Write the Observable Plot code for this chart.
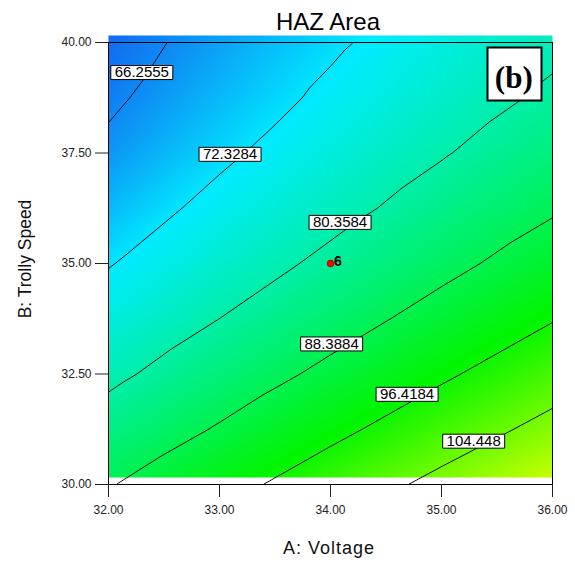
<!DOCTYPE html>
<html>
<head>
<meta charset="utf-8">
<script src="https://cdn.jsdelivr.net/npm/d3@7"></script>
<script src="https://cdn.jsdelivr.net/npm/@observablehq/plot@0.6"></script>
<style>
  html, body { margin: 0; padding: 0; background: white; }
</style>
</head>
<body>
<div id="chart"></div>
<script>
// ---- data ----
const voltage = [32, 33, 34, 35, 36];                                   // A: Voltage grid
const trollySpeed = [30, 31.25, 32.5, 33.75, 35, 36.25, 37.5, 38.75, 40]; // B: Trolly Speed grid
// HAZ area estimated at each (speed row, voltage column)
const hazArea = [
  [87.97, 94.01, 100.12, 106.29, 112.52],
  [83.21, 88.95,  94.75, 100.60, 106.52],
  [78.97, 84.40,  89.89,  95.44, 101.05],
  [75.25, 80.37,  85.55,  90.79,  96.09],
  [72.04, 76.85,  81.72,  86.65,  91.64],
  [69.35, 73.85,  78.41,  83.03,  87.71],
  [67.17, 71.36,  75.61,  79.93,  84.30],
  [65.51, 69.39,  73.33,  77.34,  81.40],
  [64.37, 67.94,  71.57,  75.27,  79.02]
];
const contourLevels = [66.2555, 72.3284, 80.3584, 88.3884, 96.4184, 104.448];
const contourLabels = ["66.2555", "72.3284", "80.3584", "88.3884", "96.4184", "104.448"];
const labelVoltage = [32.30, 33.095, 34.086, 34.01, 34.69, 35.29];
const labelSpeed = [39.32, 37.47, 35.93, 33.18, 32.04, 30.98];
const designVoltage = [34];
const designSpeed = [35];
const designLabel = ["6"];
const xTicks = [32, 33, 34, 35, 36];
const yTicks = [30, 32.5, 35, 37.5, 40];
const colorStops = [64, 73, 96, 113];
const colorRange = ["rgb(20,100,240)", "rgb(0,235,255)", "rgb(0,245,0)", "rgb(205,255,0)"];

// ---- tables built from the arrays ----
const grid = [];
trollySpeed.forEach((b, i) => voltage.forEach((a, j) => grid.push({A: a, B: b, v: hazArea[i][j]})));
const labels = contourLabels.map((t, i) => ({t, A: labelVoltage[i], B: labelSpeed[i]}));
const design = designLabel.map((t, i) => ({t, A: designVoltage[i], B: designSpeed[i]}));

const labelBox = {draw(ctx) { ctx.rect(-31, -7, 62, 14); ctx.closePath(); }};
const panelBox = {draw(ctx) { ctx.rect(-27, -26.5, 54, 53); ctx.closePath(); }};
const fmt = d3.format(".2f");

const chart = Plot.plot({
  width: 575,
  height: 562,
  marginLeft: 108,
  marginRight: 23,
  marginTop: 42,
  marginBottom: 78,
  style: {fontFamily: "'Liberation Sans', Arial, sans-serif", fontSize: "12px", background: "white", color: "#111"},
  x: {domain: [32, 36]},
  y: {domain: [30, 40]},
  color: {type: "linear", domain: colorStops, range: colorRange, interpolate: "rgb", clamp: true},
  marks: [
    Plot.raster(grid, {x: "A", y: "B", fill: "v", interpolate: "barycentric", x1: 32, x2: 36, y1: 30, y2: 40, pixelSize: 1, dy: -7}),
    Plot.contour(grid, {x: "A", y: "B", value: "v", interpolate: "barycentric", thresholds: contourLevels, fill: "none", stroke: "black", strokeWidth: 1, pixelSize: 1}),
    Plot.frame({stroke: "black"}),
    Plot.axisX({ticks: xTicks, tickFormat: fmt, tickSize: 13, tickPadding: 8, fontSize: 12, label: null, color: "#222"}),
    Plot.axisY({ticks: yTicks, tickFormat: fmt, tickSize: 13, tickPadding: 4, fontSize: 12, label: null, color: "#222"}),
    Plot.dot(labels, {x: "A", y: "B", symbol: labelBox, fill: "white", stroke: "black", strokeWidth: 1, r: 4}),
    Plot.text(labels, {x: "A", y: "B", text: "t", fontSize: 15, fill: "black"}),
    Plot.dot(design, {x: "A", y: "B", r: 3.4, fill: "red", stroke: "#800", strokeWidth: 0.6}),
    Plot.text(design, {x: "A", y: "B", text: "t", textAnchor: "start", dx: 3.5, dy: -1.5, fontSize: 14, fontWeight: "bold", fill: "black"}),
    Plot.dot([0], {frameAnchor: "top-right", dx: -38, dy: 31.5, symbol: panelBox, fill: "white", stroke: "black", strokeWidth: 2, r: 4}),
    Plot.text(["(b)"], {frameAnchor: "top-right", textAnchor: "middle", lineAnchor: "middle", dx: -38.7, dy: 35.4, fontSize: 31, fontWeight: "bold", fontFamily: "'Liberation Serif', 'Times New Roman', serif", fill: "black"}),
    Plot.text(["HAZ Area"], {frameAnchor: "top", textAnchor: "middle", lineAnchor: "middle", dx: -2.5, dy: -20.4, fontSize: 24, fill: "black"}),
    Plot.text(["A: Voltage"], {frameAnchor: "bottom", textAnchor: "middle", lineAnchor: "middle", dx: -1.5, dy: 63.5, fontSize: 18, fill: "#111"}),
    Plot.text(["B: Trolly Speed"], {frameAnchor: "left", textAnchor: "middle", lineAnchor: "middle", rotate: -90, dx: -83, dy: -4.5, fontSize: 17.5, fill: "#111"})
  ]
});
d3.select(chart).selectAll("text")
  .filter(function() { return this.textContent === "A: Voltage"; })
  .style("letter-spacing", "1px");
document.getElementById("chart").appendChild(chart);
</script>
</body>
</html>
